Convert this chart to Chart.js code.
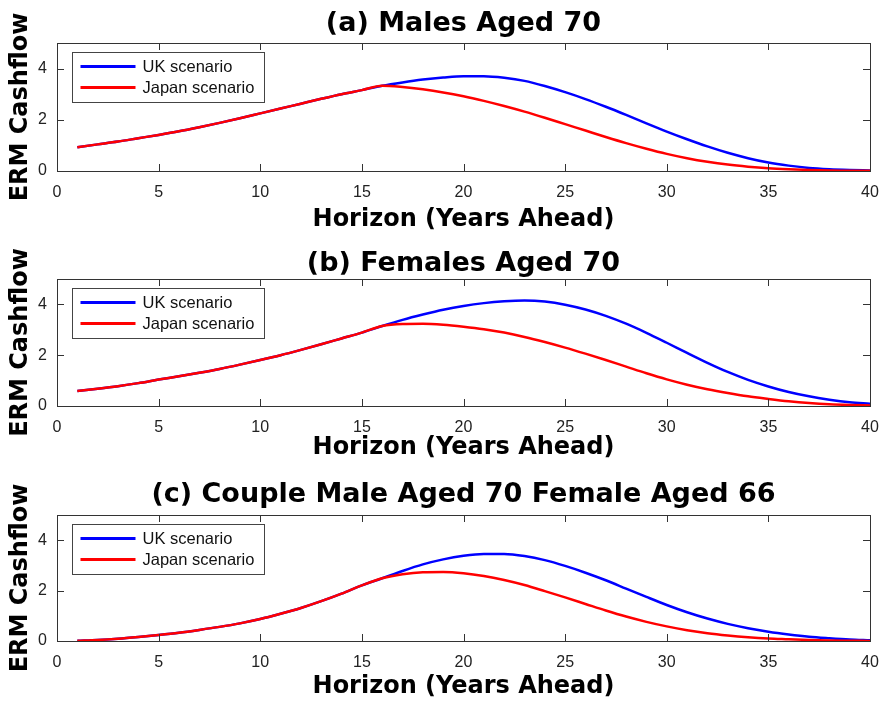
<!DOCTYPE html>
<html>
<head>
<meta charset="utf-8">
<script src="https://cdn.jsdelivr.net/npm/chart.js@4.4.0/dist/chart.umd.min.js"></script>
<style>
  html, body { margin: 0; padding: 0; background: #fff; }
  #wrap { position: relative; width: 884px; height: 705px; }
  canvas { position: absolute; left: 0; }
</style>
</head>
<body>
<div id="wrap">
  <canvas id="chartA" width="884" height="235" style="top:0px"></canvas>
  <canvas id="chartB" width="884" height="235" style="top:235px"></canvas>
  <canvas id="chartC" width="884" height="235" style="top:470px"></canvas>
</div>
<script>
// horizon in years
var years = [1, 2, 3, 4, 5, 6, 7, 8, 9, 10, 11, 12, 13, 14, 15, 16, 17, 18, 19, 20,
             21, 22, 23, 24, 25, 26, 27, 28, 29, 30, 31, 32, 33, 34, 35, 36, 37, 38, 39, 40];
var xTicks = [0, 5, 10, 15, 20, 25, 30, 35, 40];
var yTicks = [0, 2, 4];
var seriesNames = ['UK scenario', 'Japan scenario'];
var panelTitles = ['(a) Males Aged 70', '(b) Females Aged 70', '(c) Couple Male Aged 70 Female Aged 66'];

// (a) males
var maleUK = [0.93, 1.04, 1.15, 1.28, 1.41, 1.55, 1.71, 1.88, 2.06, 2.25, 2.44, 2.63, 2.82, 3.00, 3.16, 3.33,
              3.46, 3.57, 3.65, 3.70, 3.70, 3.64, 3.52, 3.32, 3.08, 2.81, 2.51, 2.19, 1.86, 1.54, 1.24, 0.96,
              0.71, 0.50, 0.33, 0.21, 0.12, 0.07, 0.04, 0.02];
var maleJapan = [0.93, 1.04, 1.15, 1.28, 1.41, 1.55, 1.71, 1.88, 2.06, 2.25, 2.44, 2.63, 2.82, 3.00, 3.16, 3.33,
                 3.28, 3.19, 3.07, 2.92, 2.74, 2.54, 2.32, 2.08, 1.83, 1.58, 1.33, 1.09, 0.87, 0.67, 0.50, 0.36,
                 0.25, 0.17, 0.11, 0.07, 0.04, 0.02, 0.01, 0.01];

// (b) females
var femaleUK = [0.59, 0.68, 0.78, 0.90, 1.04, 1.17, 1.31, 1.46, 1.63, 1.81, 2.00, 2.21, 2.43, 2.66, 2.89, 3.15,
                3.39, 3.60, 3.79, 3.94, 4.05, 4.12, 4.15, 4.11, 3.99, 3.80, 3.55, 3.24, 2.88, 2.49, 2.09, 1.70,
                1.34, 1.03, 0.77, 0.55, 0.38, 0.25, 0.15, 0.09];
var femaleJapan = [0.59, 0.68, 0.78, 0.90, 1.04, 1.17, 1.31, 1.46, 1.63, 1.81, 2.00, 2.21, 2.43, 2.66, 2.89, 3.15,
                   3.23, 3.24, 3.20, 3.12, 3.02, 2.89, 2.72, 2.52, 2.30, 2.06, 1.81, 1.55, 1.29, 1.05, 0.84, 0.66,
                   0.51, 0.38, 0.28, 0.19, 0.12, 0.07, 0.04, 0.02];

// (c) couple
var coupleUK = [0.01, 0.04, 0.09, 0.16, 0.24, 0.33, 0.44, 0.56, 0.70, 0.87, 1.08, 1.31, 1.58, 1.88, 2.21, 2.49,
                2.78, 3.04, 3.24, 3.38, 3.45, 3.45, 3.37, 3.21, 2.98, 2.71, 2.41, 2.08, 1.75, 1.43, 1.14, 0.89,
                0.68, 0.51, 0.37, 0.26, 0.17, 0.11, 0.06, 0.03];
var coupleJapan = [0.01, 0.04, 0.09, 0.16, 0.24, 0.33, 0.44, 0.56, 0.70, 0.87, 1.08, 1.31, 1.58, 1.88, 2.21, 2.49,
                   2.65, 2.73, 2.74, 2.69, 2.58, 2.42, 2.22, 1.98, 1.73, 1.47, 1.21, 0.97, 0.76, 0.58, 0.43, 0.31,
                   0.22, 0.15, 0.10, 0.07, 0.04, 0.02, 0.01, 0.00];

var axisColor = '#333333';
var boldFont = 'DejaVu Sans';
var tickFont = 'Liberation Sans';

function toPoints(values) {
    var pts = [];
    for (var i = 0; i < values.length; ++i) {
        pts.push({x: years[i], y: values[i]});
    }
    return pts;
}

// panel title centred over the plot area (not the canvas)
var panelTitlePlugin = {
    id: 'panelTitle',
    afterDraw: function (chart, args, opts) {
        var ctx = chart.ctx;
        var a = chart.chartArea;
        ctx.save();
        ctx.font = 'bold 27px "' + boldFont + '"';
        ctx.fillStyle = '#000000';
        ctx.textAlign = 'center';
        ctx.textBaseline = 'middle';
        ctx.fillText(opts.text, (a.left + a.right) / 2, opts.y);
        ctx.restore();
    }
};

// box around the plot with inward ticks, like the original figure
var framePlugin = {
    id: 'frame',
    afterDatasetsDraw: function (chart) {
        var ctx = chart.ctx;
        var a = chart.chartArea;
        var xs = chart.scales.x;
        var ys = chart.scales.y;
        var tl = 7;
        ctx.save();
        ctx.strokeStyle = axisColor;
        ctx.lineWidth = 1;
        ctx.beginPath();
        xTicks.forEach(function (v) {
            var px = Math.round(xs.getPixelForValue(v)) + 0.5;
            ctx.moveTo(px, a.bottom); ctx.lineTo(px, a.bottom - tl);
            ctx.moveTo(px, a.top); ctx.lineTo(px, a.top + tl);
        });
        yTicks.forEach(function (v) {
            var py = Math.round(ys.getPixelForValue(v)) + 0.5;
            ctx.moveTo(a.left, py); ctx.lineTo(a.left + tl, py);
            ctx.moveTo(a.right, py); ctx.lineTo(a.right - tl, py);
        });
        ctx.stroke();
        ctx.strokeRect(Math.round(a.left) + 0.5, Math.round(a.top) + 0.5,
                       Math.round(a.right - a.left), Math.round(a.bottom - a.top));
        ctx.restore();
    }
};

// legend box in the upper left corner of the plot
var boxLegendPlugin = {
    id: 'boxLegend',
    afterDraw: function (chart) {
        var ctx = chart.ctx;
        var a = chart.chartArea;
        var x0 = Math.round(a.left) + 15.5;
        var y0 = Math.round(a.top) + 9.5;
        var w = 192, h = 50;
        ctx.save();
        ctx.fillStyle = '#ffffff';
        ctx.fillRect(x0, y0, w, h);
        ctx.strokeStyle = '#444444';
        ctx.lineWidth = 1;
        ctx.strokeRect(x0, y0, w, h);
        ctx.font = '16.5px "' + tickFont + '"';
        ctx.textBaseline = 'middle';
        ctx.textAlign = 'left';
        var order = [1, 0];
        order.forEach(function (dsIndex, row) {
            var ds = chart.data.datasets[dsIndex];
            var ly = y0 + 14 + row * 21;
            ctx.strokeStyle = ds.borderColor;
            ctx.lineWidth = 3;
            ctx.beginPath();
            ctx.moveTo(x0 + 8, ly);
            ctx.lineTo(x0 + 63, ly);
            ctx.stroke();
            ctx.fillStyle = '#111111';
            ctx.fillText(ds.label, x0 + 70, ly + 1);
        });
        ctx.restore();
    }
};

function makePanel(canvasId, title, ukData, japanData, titleY, plotTop, xTitlePad) {
    var ctx = document.getElementById(canvasId);
    return new Chart(ctx, {
        type: 'line',
        data: {
            datasets: [{
                label: seriesNames[1],
                data: toPoints(japanData),
                borderColor: '#ff0000',
                borderWidth: 2.5,
                pointRadius: 0,
                cubicInterpolationMode: 'monotone',
                fill: false,
                order: 0
            }, {
                label: seriesNames[0],
                data: toPoints(ukData),
                borderColor: '#0000ff',
                borderWidth: 2.5,
                pointRadius: 0,
                cubicInterpolationMode: 'monotone',
                fill: false,
                order: 1
            }]
        },
        options: {
            responsive: false,
            animation: false,
            devicePixelRatio: 1,
            layout: {padding: {left: 0, right: 14, top: plotTop, bottom: 0}},
            plugins: {
                legend: {display: false},
                tooltip: {enabled: false},
                panelTitle: {text: title, y: titleY}
            },
            scales: {
                x: {
                    type: 'linear',
                    min: 0,
                    max: 40,
                    afterBuildTicks: function (s) {
                        s.ticks = xTicks.map(function (v) { return {value: v}; });
                    },
                    afterFit: function (s) {
                        s.height = 64;
                        s.paddingLeft = 0;
                        s.paddingRight = 0;
                    },
                    ticks: {
                        color: '#222222',
                        font: {family: tickFont, size: 16},
                        padding: 12,
                        maxRotation: 0
                    },
                    grid: {display: false, drawTicks: false},
                    border: {display: false},
                    title: {
                        display: true,
                        text: 'Horizon (Years Ahead)',
                        color: '#000000',
                        font: {family: boldFont, size: 24, weight: 'bold'},
                        padding: {top: 0, bottom: xTitlePad}
                    }
                },
                y: {
                    type: 'linear',
                    min: 0,
                    max: 5,
                    afterBuildTicks: function (s) {
                        s.ticks = yTicks.map(function (v) { return {value: v}; });
                    },
                    afterFit: function (s) { s.width = 57; },
                    ticks: {
                        color: '#222222',
                        font: {family: tickFont, size: 16},
                        padding: 10
                    },
                    grid: {display: false, drawTicks: false},
                    border: {display: false},
                    title: {
                        display: true,
                        text: 'ERM Cashflow',
                        color: '#000000',
                        font: {family: boldFont, size: 24, weight: 'bold'},
                        padding: {top: 6, bottom: 0}
                    }
                }
            }
        },
        plugins: [framePlugin, boxLegendPlugin, panelTitlePlugin]
    });
}

makePanel('chartA', panelTitles[0], maleUK, maleJapan, 24, 43, 1);
makePanel('chartB', panelTitles[1], femaleUK, femaleJapan, 29, 44, 8);
makePanel('chartC', panelTitles[2], coupleUK, coupleJapan, 25, 45, 4);
</script>
</body>
</html>
